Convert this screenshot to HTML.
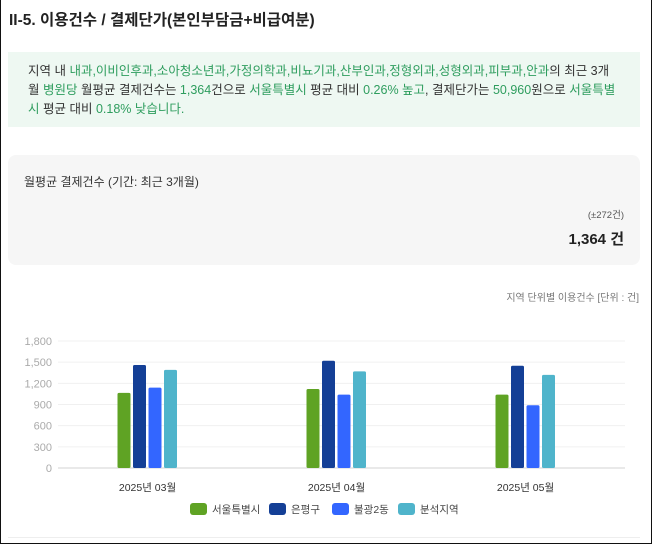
<!DOCTYPE html>
<html><head><meta charset="utf-8"><style>
body{margin:0;width:652px;height:545px;overflow:hidden;background:#fff;font-family:"Liberation Sans","Noto Sans CJK KR",sans-serif;position:relative}
.frame{position:absolute;left:0;top:0;width:650px;height:543px;border:1px solid #111;border-top:none}
.title{position:absolute;left:9px;top:8px;font-size:15.5px;font-weight:bold;color:#222}
.note{position:absolute;left:8px;top:52px;width:632px;height:75px;background:#eef8f2;box-sizing:border-box;padding:10px 20px;font-size:12.5px;line-height:19px;color:#333}
.g{color:#2e9d5e}
.card{position:absolute;left:8px;top:155px;width:632px;height:110px;background:#f6f6f6;border-radius:8px}
.unit{position:absolute;right:13px;top:289px;font-size:10px;color:#777}
</style></head><body>
<div class="frame"></div>
<div class="title">II-5. 이용건수 / 결제단가(본인부담금+비급여분)</div>
<div class="note">지역 내 <span class="g">내과,이비인후과,소아청소년과,가정의학과,비뇨기과,산부인과,정형외과,성형외과,피부과,안과</span>의 최근 3개월 <span class="g">병원당</span> 월평균 결제건수는 <span class="g">1,364</span>건으로 <span class="g">서울특별시</span> 평균 대비 <span class="g">0.26% 높고</span>, 결제단가는 <span class="g">50,960</span>원으로 <span class="g">서울특별시</span> 평균 대비 <span class="g">0.18% 낮습니다.</span></div>
<div class="card">
<div style="position:absolute;left:16px;top:18px;font-size:12px;color:#333">월평균 결제건수 (기간: 최근 3개월)</div>
<div style="position:absolute;right:16px;top:52px;font-size:9.5px;color:#555">(±272건)</div>
<div style="position:absolute;right:16px;top:73px;font-size:15px;font-weight:bold;color:#222">1,364 건</div>
</div>
<div class="unit">지역 단위별 이용건수 [단위 : 건]</div>
<svg id="chart" width="652" height="545" style="position:absolute;left:0;top:0"></svg>
<div style="position:absolute;left:8px;top:537px;width:632px;height:1px;background:#eee"></div>
<script>
const categories=["2025년 03월","2025년 04월","2025년 05월"];
const seriesNames=["서울특별시","은평구","불광2동","분석지역"];
const seoul=[1065,1120,1040];
const eunpyeong=[1460,1520,1450];
const bulgwang=[1140,1040,890];
const region=[1390,1370,1320];
const yTicks=[0,300,600,900,1200,1500,1800];
const colors=["#5fa324","#143f96","#3366ff","#4fb4cb"];
const ns="http://www.w3.org/2000/svg",svg=document.getElementById("chart");
const y0=468,yTop=341,x0=58,x1=625,yMax=1800;
const y=v=>y0-(v/yMax)*(y0-yTop);
const bw=(x1-x0)/categories.length;
const xc=i=>x0+bw*(i+0.5)-5;
function mk(t,a){const e=document.createElementNS(ns,t);for(const k in a)e.setAttribute(k,a[k]);svg.appendChild(e);return e;}
yTicks.forEach(t=>{
const l=mk("line",{x1:x0,x2:x1,y1:y(t),y2:y(t),stroke:t===0?"#e2e2e2":"#f0f0f0","stroke-width":t===0?1.5:1});


const tx=mk("text",{x:52,y:y(t)+4,"text-anchor":"end","font-size":11,fill:"#aaa"});
tx.textContent=t.toLocaleString("en-US");


});
const all=[seoul,eunpyeong,bulgwang,region];
const w=13,pitch=15.5;
categories.forEach((c,i)=>{
all.forEach((s,j)=>{
const bx=xc(i)+(j-2)*pitch+1;
const r=mk("rect",{x:bx,y:y(s[i]),width:w,height:y0-y(s[i]),fill:colors[j],rx:1.5});


});
const t=mk("text",{x:xc(i),y:491,"text-anchor":"middle","font-size":10.5,fill:"#333"});
t.textContent=c;


});
const lx=[190,269,332,398];
seriesNames.forEach((n,j)=>{
const r=mk("rect",{x:lx[j],y:503,width:17,height:12,rx:3,fill:colors[j]});


const t=mk("text",{x:lx[j]+22,y:513,"font-size":10.5,fill:"#444"});
t.textContent=n;


});
</script>
</body></html>
